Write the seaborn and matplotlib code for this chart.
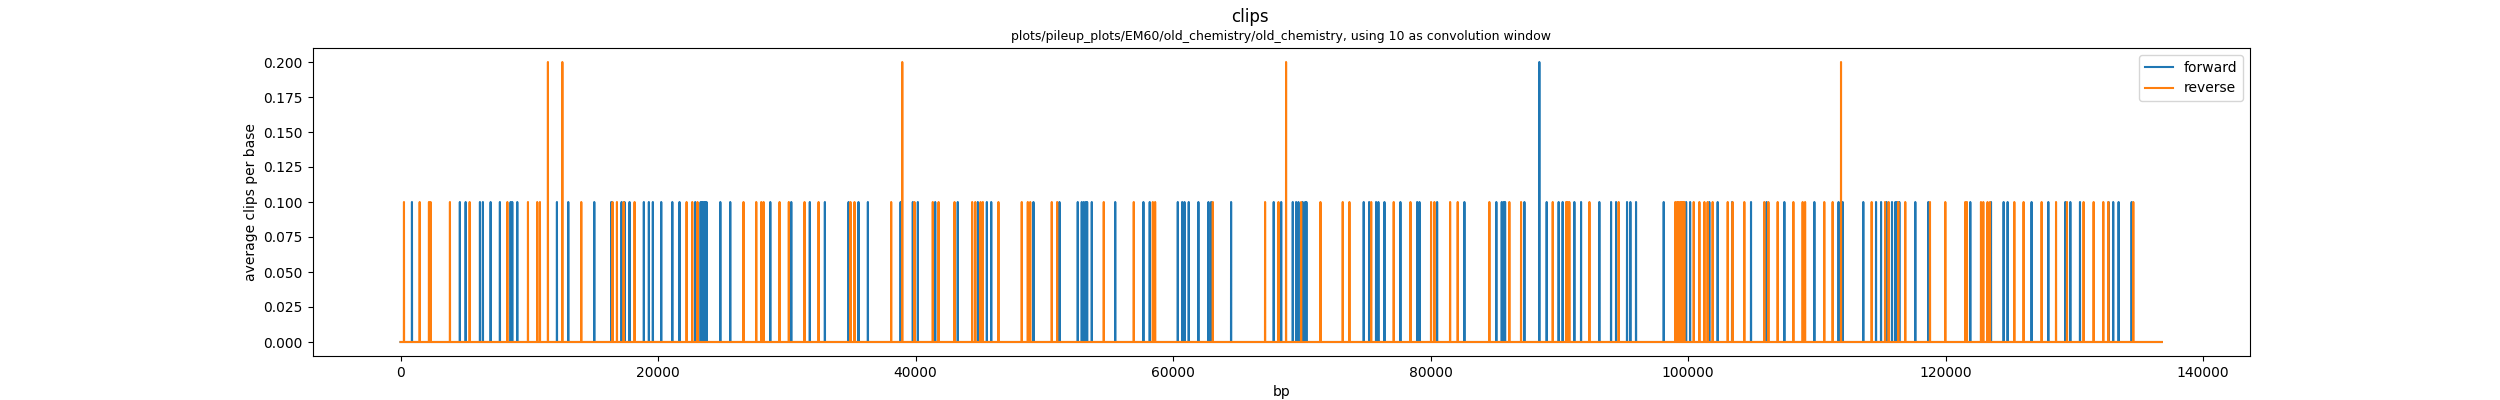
"""
Clip positions along the genome, smoothed with a 10 bp window.
"""

import numpy as np
import pandas as pd
import seaborn as sns
import matplotlib
matplotlib.use("Agg")
import matplotlib.pyplot as plt


# genome length in bp
genome_length = 136800
window = 10

# positions of clipped reads (a position listed twice is a double clip)
forward_clips = [
    880, 4600, 5050, 6160, 6390, 6990, 7710, 8540, 8670, 9060,
    12140, 13020, 15040, 16360, 17160, 17390, 17780, 18890, 19280, 19590,
    20240, 21100, 21660, 22880, 23300, 23410, 23530, 23640, 23760, 24830,
    25600, 28710, 30340, 31780, 32950, 34790, 35560, 36290, 38830, 39780,
    40170, 41520, 43270, 44830, 45530, 45870, 49150, 51170, 52590, 52900,
    53060, 53210, 53320, 53680, 55500, 57690, 58180, 60360, 60700, 60880,
    61210, 61960, 62740, 62950, 64500, 67810, 68390, 69290, 69550, 69730,
    70060, 70250, 70350, 74800, 75220, 75760, 75940, 76410, 77650, 78950,
    79130, 80500, 82620, 85100, 85520, 85670, 85780, 87280, 88440, 88440,
    89010, 89940, 90250, 91160, 91680, 93100, 94010, 94400, 95250, 95510,
    95950, 98100, 99840, 100150, 101640, 102290, 103410, 104880, 106090, 107470,
    109800, 111680, 112000, 113600, 114590, 114980, 115410, 115830, 116090, 116220,
    116400, 117640, 118650, 121910, 123520, 124500, 124810, 126670, 127970, 129290,
    129680, 130430, 132650, 133010, 133430, 134440,
]

reverse_clips = [
    260, 1480, 2200, 2330, 3830, 5360, 8290, 9890, 10610, 10820,
    11440, 11440, 12560, 12560, 14030, 16460, 16800, 17320, 18170, 22210,
    22650, 23060, 26630, 27620, 28010, 28190, 29430, 30150, 31370, 32460,
    34940, 35250, 38100, 38960, 38960, 39910, 41330, 41780, 43020, 44390,
    44630, 45040, 45220, 46430, 48240, 48710, 48900, 50570, 50990, 54610,
    56940, 58420, 58600, 63080, 67140, 68180, 68770, 68770, 69940, 71440,
    73170, 73690, 75380, 77130, 78430, 80030, 80290, 81510, 82100, 84560,
    86110, 87020, 89480, 90520, 90640, 90770, 92330, 94600, 99000, 99140,
    99260, 99390, 99490, 99600, 99700, 100430, 100870, 101260, 101510, 101900,
    103070, 103450, 104360, 105910, 106230, 106950, 108170, 108890, 109080, 110570,
    111220, 111870, 111870, 114250, 115290, 115570, 116320, 116860, 118780, 119970,
    121520, 121650, 122740, 122920, 123250, 123440, 125330, 126050, 127450, 128570,
    129420, 130710, 131490, 132240, 132630, 134570,
]

subtitle = "plots/pileup_plots/EM60/old_chemistry/old_chemistry, using 10 as convolution window"


def smooth(clips: list) -> np.ndarray:
    """
    Average clips per base over the convolution window.
    """

    counts = np.zeros(genome_length)
    np.add.at(counts, np.array(clips), 1)
    return np.convolve(counts, np.ones(window) / window, mode="same")


def main() -> None:
    bp = np.arange(genome_length)
    df = pd.DataFrame({
        "bp": bp,
        "forward": smooth(forward_clips),
        "reverse": smooth(reverse_clips),
    })

    fig, ax = plt.subplots(figsize=(25, 4), dpi=100)

    palette = sns.color_palette("tab10")
    sns.lineplot(data=df, x="bp", y="forward", ax=ax, label="forward",
                 color=palette[0], linewidth=1.5, estimator=None, sort=False)
    sns.lineplot(data=df, x="bp", y="reverse", ax=ax, label="reverse",
                 color=palette[1], linewidth=1.5, estimator=None, sort=False)

    fig.suptitle("clips", fontsize=12)
    ax.set_title(subtitle, fontsize=9)
    ax.set_xlabel("bp")
    ax.set_ylabel("average clips per base")
    ax.legend(loc="upper right")

    fig.savefig("out.png", dpi=100)


if __name__ == "__main__":
    main()
